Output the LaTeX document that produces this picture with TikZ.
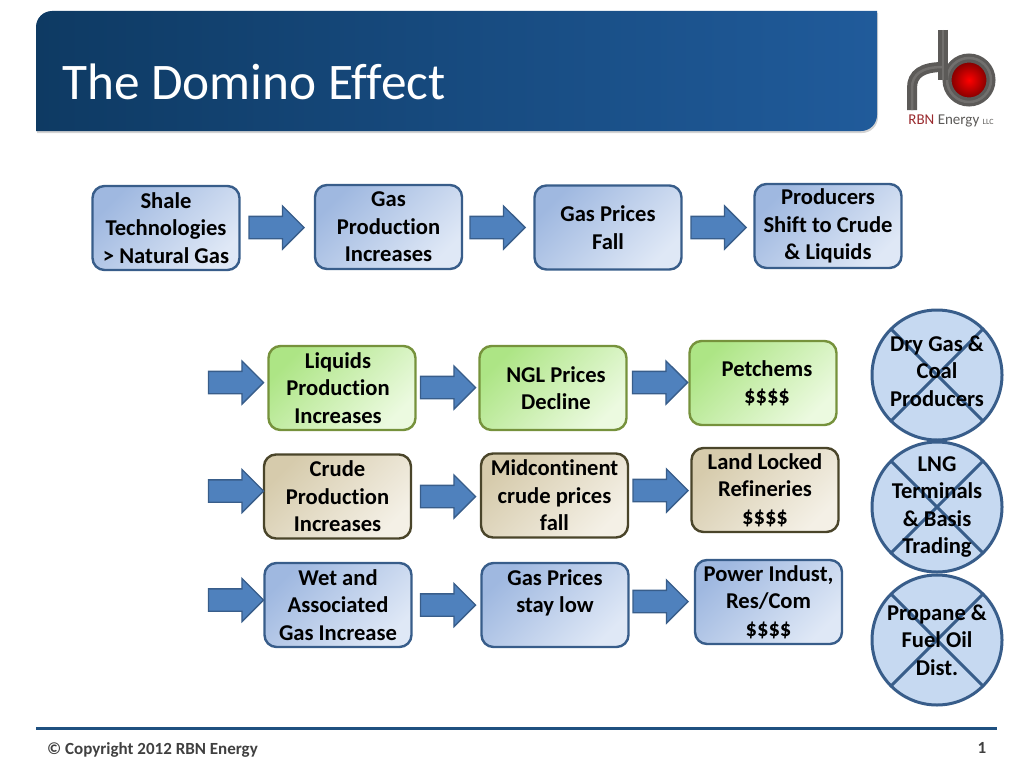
\documentclass[tikz,border=0pt]{standalone}
\usepackage{fontspec}
\setmainfont{Carlito}[Ligatures=NoCommon]
\usetikzlibrary{shapes.arrows,shadows}

\definecolor{navyl}{HTML}{0E3A63}
\definecolor{navyr}{HTML}{205B9B}
\definecolor{rule}{HTML}{1F5080}
\definecolor{bluedge}{HTML}{385D8A}
\definecolor{bluea}{HTML}{9FB8E0}
\definecolor{blueb}{HTML}{DFE8F6}
\definecolor{greenedge}{HTML}{76923C}
\definecolor{greena}{HTML}{ADE585}
\definecolor{greenb}{HTML}{ECFAE0}
\definecolor{tanedge}{HTML}{4A452A}
\definecolor{tana}{HTML}{D6CBAC}
\definecolor{tanb}{HTML}{F4F0E6}
\definecolor{arrowfill}{HTML}{4F81BD}
\definecolor{circfill}{HTML}{C6D9F1}
\definecolor{pipe}{HTML}{5C5A58}
\definecolor{pipelt}{HTML}{716F6D}
\definecolor{rbnred}{HTML}{9A2A2E}

\tikzset{
  boxbase/.style={rectangle,rounded corners=12pt,line width=2.4pt,minimum width=147pt,
    minimum height=84pt,inner sep=0pt,align=center,font=\fontsize{22.6}{27.4}\selectfont\bfseries,
    shading=axis,shading angle=45},
  bluebox/.style={boxbase,draw=bluedge,top color=bluea,bottom color=blueb,shading angle=45},
  greenbox/.style={boxbase,draw=greenedge,top color=greena,bottom color=greenb,shading angle=45},
  tanbox/.style={boxbase,draw=tanedge,top color=tana,bottom color=tanb,shading angle=45},
  fatarrow/.style={single arrow,draw=bluedge,fill=arrowfill,line width=1.3pt,inner xsep=0pt,inner ysep=10.5pt,
    minimum width=42pt,minimum height=55pt,single arrow head extend=10.5pt,xshift=-5.5pt},
  nogo/.style={circle,draw=bluedge,fill=circfill,line width=3pt,minimum size=130pt,inner sep=-10pt,
    align=center,font=\fontsize{22.6}{27.4}\selectfont\bfseries,
    path picture={
      \draw[bluedge,line width=3pt] (path picture bounding box.north west) -- (path picture bounding box.south east);
      \draw[bluedge,line width=3pt] (path picture bounding box.north east) -- (path picture bounding box.south west);
    }},
}

\begin{document}
\begin{tikzpicture}[x=1pt,y=-1pt]
\useasboundingbox (0,0) rectangle (1024,768);

% header band
\path[left color=navyl,right color=navyr,drop shadow={shadow xshift=1pt,shadow yshift=-2pt,opacity=.35}]
  (36,131) [rounded corners=16pt] -- (36,11) [sharp corners] -- (877,11)
  [rounded corners=16pt] -- (877,131) [sharp corners] -- cycle;
\node (title) [anchor=west,text=white,inner sep=0pt,font=\fontsize{51.3}{54}\selectfont] at (62,82) {The Domino Effect};

% logo
\shade[inner color=red,outer color=red!50!black] (969,80) circle (19);
\draw[pipe,line width=9pt] (969,80) circle (22);
\draw[pipelt,line width=2.5pt] (969,80) circle (22);
\draw[pipe,line width=10.5pt] (943,30) -- (943,80);
\draw[pipe,line width=10pt] (912,110) -- (912,88) .. controls (912,74) and (922,67) .. (943,67);
\draw[pipelt,line width=2.5pt] (943,30) -- (943,80);
\draw[pipelt,line width=2.5pt] (912,110) -- (912,88) .. controls (912,74) and (922,67) .. (943,67);
\node (rbn) [inner sep=0pt,text=pipe,font=\fontsize{15}{16}\selectfont] at (951,121)
  {\textcolor{rbnred}{RBN} Energy {\fontsize{8}{9}\selectfont LLC}};

% top row
\node (shale) [bluebox] at (166,228) {Shale\\Technologies\\> Natural Gas};
\node (gasprod) [bluebox] at (388.5,227) {Gas\\Production\\Increases};
\node (gasfall) [bluebox] at (608,227.5) {Gas Prices\\Fall};
\node (shift) [bluebox] at (828,226) {Producers\\Shift to Crude\\\& Liquids};
\node (a1) [fatarrow] at (276.5,227.5) {};
\node (a2) [fatarrow] at (497.5,227.5) {};
\node (a3) [fatarrow] at (718.5,227.5) {};

% liquids
\node (liq) [greenbox] at (342,388) {\hspace*{-8pt}Liquids\\\hspace*{-8pt}Production\\\hspace*{-8pt}Increases};
\node (ngl) [greenbox] at (553,388) {\hspace*{6pt}NGL Prices\\\hspace*{6pt}Decline};
\node (pet) [greenbox] at (763,383) {\hspace*{8pt}Petchems\\\hspace*{8pt}\$\$\$\$};
\node (b0) [fatarrow] at (236,382.5) {};
\node (b1) [fatarrow] at (448,387.5) {};
\node (b2) [fatarrow] at (660,382.5) {};

% crude
\node (crude) [tanbox] at (337.5,496.5) {Crude\\Production\\Increases};
\node (mid) [tanbox] at (554.5,495.5) {Midcontinent\\crude prices\\fall};
\node (land) [tanbox] at (765,490) {Land Locked\\Refineries\\\$\$\$\$};
\node (c0) [fatarrow] at (236,491) {};
\node (c1) [fatarrow] at (448,496.5) {};
\node (c2) [fatarrow] at (660.5,490.5) {};

% wet gas
\node (wet) [bluebox] at (338,605) {Wet and\\Associated\\Gas Increase};
\node (low) [bluebox] at (555,605) {Gas Prices\\stay low\\\mbox{}};
\node (pow) [bluebox] at (768.5,602) {Power Indust,\\Res/Com\\\$\$\$\$};
\node (d0) [fatarrow] at (236,600) {};
\node (d1) [fatarrow] at (448,605) {};
\node (d2) [fatarrow] at (660.5,601.5) {};

% losers
\node (dry) [nogo] at (937,375) {Dry Gas \&\\Coal\\Producers\\[-19pt]\mbox{}};
\node (lng) [nogo] at (937,507) {LNG\\Terminals\\\& Basis\\Trading};
\node (prop) [nogo] at (937,640) {Propane \&\\Fuel Oil\\Dist.};

% footer
\coordinate (ruleL) at (36,728);
\coordinate (ruleR) at (997,728);
\draw[rule,line width=3pt] (ruleL) -- (ruleR);
\node (copy) [anchor=west,inner sep=0pt,text=black!75,font=\fontsize{17}{18}\selectfont\bfseries] at (47,750) {© Copyright 2012 RBN Energy};
\node (page) [inner sep=0pt,text=black!75,font=\fontsize{17}{18}\selectfont\bfseries] at (982,748) {1};
\end{tikzpicture}
\end{document}
